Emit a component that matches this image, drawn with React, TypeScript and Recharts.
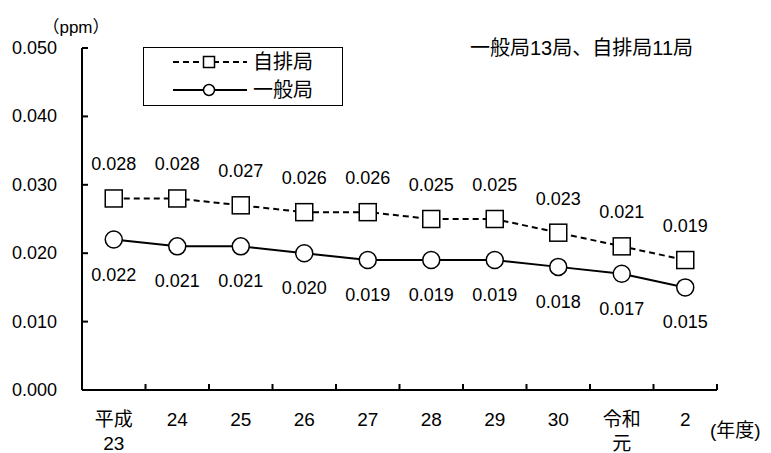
import React from 'react';
import { LineChart, Line, XAxis, YAxis, LabelList } from 'recharts';

const categories = ['平成\n23', '24', '25', '26', '27', '28', '29', '30', '令和\n元', '2'];
const jihaikyoku = [0.028, 0.028, 0.027, 0.026, 0.026, 0.025, 0.025, 0.023, 0.021, 0.019];
const ippankyoku = [0.022, 0.021, 0.021, 0.02, 0.019, 0.019, 0.019, 0.018, 0.017, 0.015];
const yTicks = [0, 0.01, 0.02, 0.03, 0.04, 0.05];
const seriesNames = ['自排局', '一般局'];
const note = '一般局13局、自排局11局';
const yUnit = '（ppm）';
const xUnit = '(年度)';

const data = categories.map((c, i) => ({ cat: c, jihai: jihaikyoku[i], ippan: ippankyoku[i] }));

const W = 771;
const H = 453;
const LEFT = 82;
const RIGHT = 54;
const TOP = 48;
const XH = 63;
const BW = (W - LEFT - RIGHT) / categories.length;

const NUM_FONT = '"Liberation Sans", Arial, sans-serif';
const MIX_FONT = '"Liberation Sans", "Noto Sans CJK JP", sans-serif';

const XTick = (props: any) => {
  const { x, y, payload } = props;
  const index = props.index ?? payload.index;
  const lines = String(payload.value).split('\n');
  const last = index === categories.length - 1;
  return (
    <g>
      <line x1={x - BW / 2} x2={x - BW / 2} y1={y} y2={y - 6} stroke="#000" strokeWidth={2} />
      {last && <line x1={x + BW / 2} x2={x + BW / 2} y1={y} y2={y - 6} stroke="#000" strokeWidth={2} />}
      <text textAnchor="middle" fontSize={19} fontFamily={MIX_FONT} fill="#000">
        {lines.map((l, i) => (
          <tspan key={i} x={x} y={y + 29 + i * 24} dominantBaseline="central">
            {l}
          </tspan>
        ))}
      </text>
    </g>
  );
};

const YTick = (props: any) => {
  const { x, y, payload } = props;
  return (
    <g>
      <line x1={x} x2={x + 6} y1={y} y2={y} stroke="#000" strokeWidth={2} />
      <text x={x - 25} y={y} textAnchor="end" dominantBaseline="central" fontSize={18} fontFamily={NUM_FONT} fill="#000">
        {Number(payload.value).toFixed(3)}
      </text>
    </g>
  );
};

const SquareDot = (p: any) => (
  <rect key={`s${p.index}`} x={p.cx - 8.5} y={p.cy - 8.5} width={17} height={17} fill="#fff" stroke="#000" strokeWidth={1.5} />
);
const CircleDot = (p: any) => (
  <circle key={`c${p.index}`} cx={p.cx} cy={p.cy} r={8.5} fill="#fff" stroke="#000" strokeWidth={1.5} />
);

const labelAbove = (p: any) => (
  <text x={p.x} y={p.y - 34} textAnchor="middle" dominantBaseline="central" fontSize={18} fontFamily={NUM_FONT} fill="#000">
    {Number(p.value).toFixed(3)}
  </text>
);
const labelBelow = (p: any) => (
  <text x={p.x} y={p.y + 35} textAnchor="middle" dominantBaseline="central" fontSize={18} fontFamily={NUM_FONT} fill="#000">
    {Number(p.value).toFixed(3)}
  </text>
);

export default function App() {
  const lgX = 143;
  const lgY = 47;
  return (
    <div style={{ position: 'absolute', left: 0, top: 0, width: W, height: H, background: '#fff' }}>
      <LineChart width={W} height={H} data={data} margin={{ top: TOP, right: RIGHT, bottom: 0, left: 0 }}>
        <XAxis
          dataKey="cat"
          interval={0}
          height={XH}
          tickSize={0}
          tickMargin={0}
          tickLine={false}
          axisLine={{ stroke: '#000', strokeWidth: 2 }}
          padding={{ left: BW / 2, right: BW / 2 }}
          tick={<XTick />}
        />
        <YAxis
          width={LEFT}
          domain={[0, 0.05]}
          ticks={yTicks}
          tickSize={0}
          tickMargin={0}
          tickLine={false}
          axisLine={{ stroke: '#000', strokeWidth: 2 }}
          tick={<YTick />}
        />
        <Line
          dataKey="jihai"
          name={seriesNames[0]}
          stroke="#000"
          strokeWidth={2}
          strokeDasharray="6 4"
          dot={SquareDot}
          isAnimationActive={false}
        >
          <LabelList dataKey="jihai" content={labelAbove} />
        </Line>
        <Line
          dataKey="ippan"
          name={seriesNames[1]}
          stroke="#000"
          strokeWidth={2}
          dot={CircleDot}
          isAnimationActive={false}
        >
          <LabelList dataKey="ippan" content={labelBelow} />
        </Line>
      </LineChart>
      <svg width={W} height={H} style={{ position: 'absolute', left: 0, top: 0, pointerEvents: 'none' }}>
        <rect x={lgX + 0.5} y={lgY + 0.5} width={199} height={58} fill="#fff" stroke="#000" strokeWidth={1} />
        <line x1={lgX + 30} x2={lgX + 104} y1={lgY + 15} y2={lgY + 15} stroke="#000" strokeWidth={2} strokeDasharray="6 4" />
        <rect x={lgX + 66 - 5.5} y={lgY + 15 - 5.5} width={11} height={11} fill="#fff" stroke="#000" strokeWidth={1.5} />
        <text x={lgX + 110} y={lgY + 15} dominantBaseline="central" fontSize={20} fontFamily={MIX_FONT} fill="#000">
          {seriesNames[0]}
        </text>
        <line x1={lgX + 30} x2={lgX + 104} y1={lgY + 43} y2={lgY + 43} stroke="#000" strokeWidth={2} />
        <circle cx={lgX + 66} cy={lgY + 43} r={5.5} fill="#fff" stroke="#000" strokeWidth={1.5} />
        <text x={lgX + 110} y={lgY + 43} dominantBaseline="central" fontSize={20} fontFamily={MIX_FONT} fill="#000">
          {seriesNames[1]}
        </text>
        <text x={470} y={48} dominantBaseline="central" fontSize={20} fontFamily={MIX_FONT} fill="#000">
          {note}
        </text>
        <text x={76} y={27} textAnchor="middle" dominantBaseline="central" fontSize={17} fontFamily={MIX_FONT} fill="#000">
          {yUnit}
        </text>
        <text x={710} y={430} dominantBaseline="central" fontSize={19} fontFamily={MIX_FONT} fill="#000">
          {xUnit}
        </text>
      </svg>
    </div>
  );
}
